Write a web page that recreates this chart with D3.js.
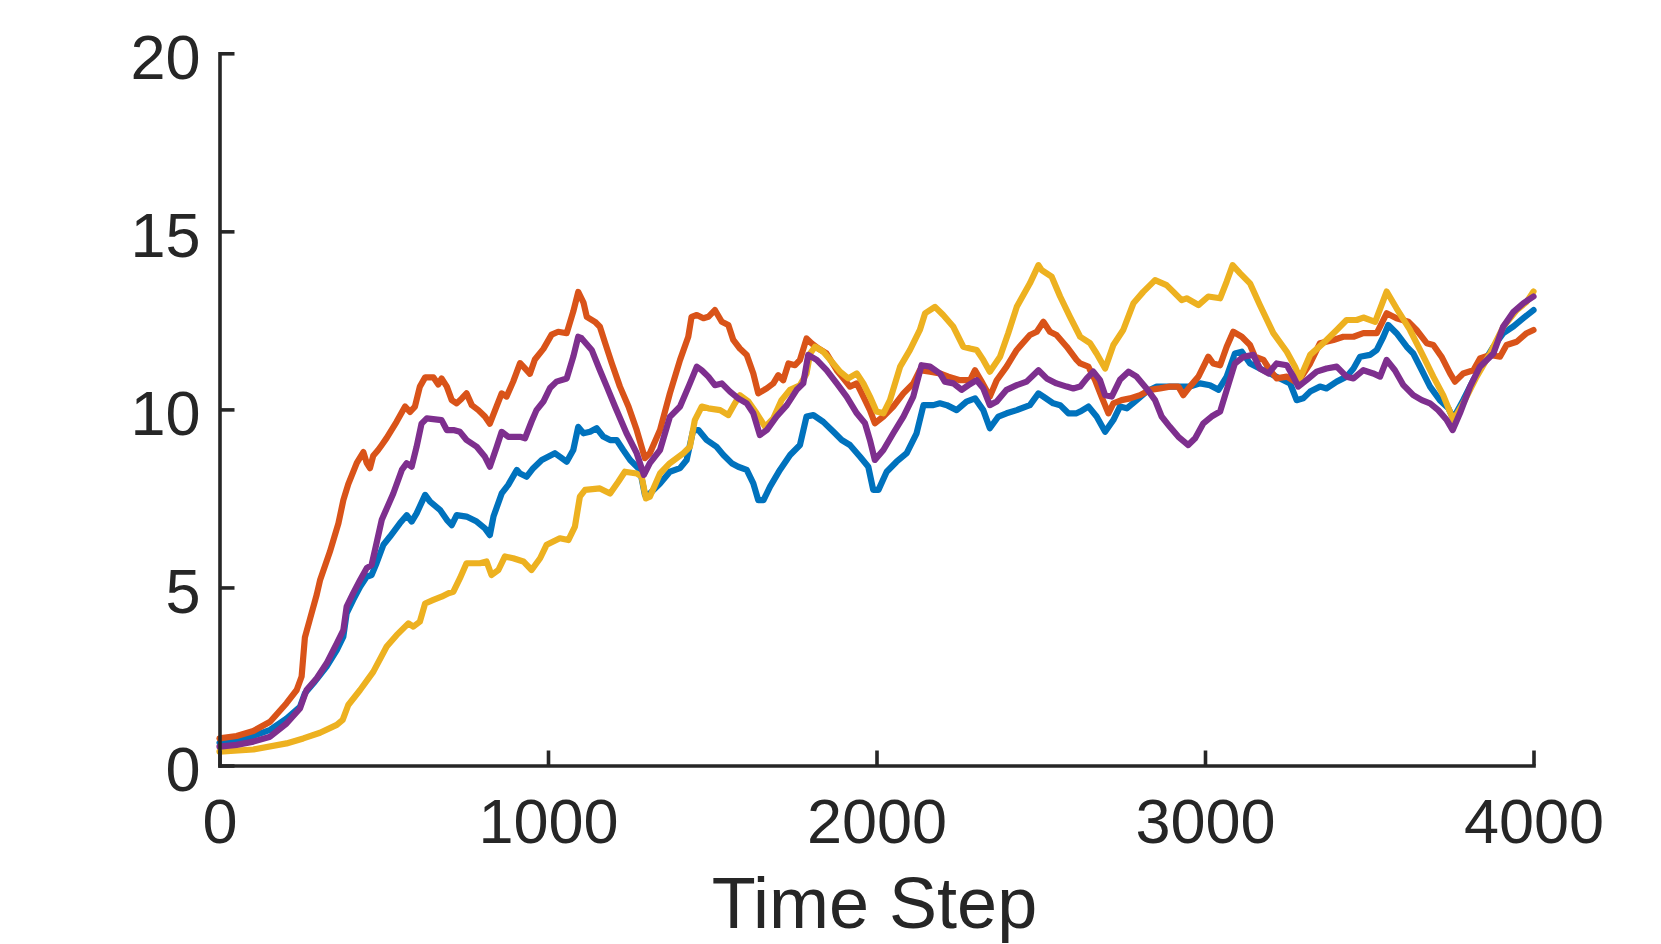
<!DOCTYPE html>
<html>
<head>
<meta charset="utf-8">
<script src="https://cdn.jsdelivr.net/npm/d3@7"></script>
<style>
html,body{margin:0;padding:0;background:#fff;}
svg{display:block;}
</style>
</head>
<body>
<svg id="chart" width="1661" height="944"></svg>
<script>
// ---- data ----
const xTicks = [0, 1000, 2000, 3000, 4000];
const yTicks = [0, 5, 10, 15, 20];
const xLabel = "Time Step";

const seriesBlue = [[0,0.64],[52,0.72],[103,0.83],[154,1.0],[204,1.32],[245,1.65],[260,2.03],[286,2.31],[326,2.78],[357,3.24],[377,3.62],[387,4.27],[407,4.65],[428,5.02],[448,5.3],[463,5.35],[478,5.68],[499,6.2],[519,6.43],[549,6.8],[570,7.03],[585,6.85],[600,7.08],[626,7.6],[641,7.41],[671,7.18],[692,6.9],[707,6.75],[722,7.03],[752,6.99],[783,6.85],[808,6.66],[823,6.47],[834,6.99],[859,7.64],[879,7.88],[905,8.3],[915,8.2],[935,8.11],[955,8.35],[981,8.58],[1021,8.77],[1036,8.67],[1057,8.53],[1077,8.86],[1092,9.51],[1108,9.33],[1128,9.37],[1148,9.47],[1168,9.24],[1189,9.14],[1209,9.14],[1229,8.86],[1250,8.58],[1280,8.3],[1295,7.6],
[1310,7.64],[1341,7.92],[1371,8.25],[1402,8.35],[1422,8.58],[1442,9.42],[1458,9.42],[1483,9.14],[1513,8.95],[1534,8.72],[1559,8.49],[1579,8.39],[1605,8.3],[1625,7.92],[1640,7.45],[1656,7.45],[1676,7.83],[1706,8.3],[1737,8.72],[1767,9.0],[1787,9.8],[1808,9.84],[1838,9.65],[1869,9.37],[1894,9.14],[1919,9.0],[1950,8.67],[1975,8.39],[1990,7.74],[2006,7.74],[2031,8.25],[2061,8.53],[2092,8.77],[2122,9.33],[2143,10.12],[2173,10.12],[2193,10.17],[2214,10.12],[2244,9.98],[2274,10.22],[2300,10.31],[2325,9.98],[2345,9.47],[2371,9.8],[2396,9.89],[2427,9.98],[2467,10.12],[2493,10.45],[2508,10.36],[2538,10.17],[2559,10.12],[2584,9.89],[2609,9.89],
[2620,9.94],[2645,10.08],[2670,9.8],[2696,9.37],[2721,9.7],[2741,10.08],[2762,10.03],[2792,10.26],[2822,10.5],[2853,10.64],[2893,10.64],[2924,10.64],[2954,10.64],[2985,10.73],[3015,10.68],[3041,10.55],[3066,10.92],[3091,11.57],[3112,11.62],[3137,11.29],[3167,11.15],[3198,11.01],[3228,10.87],[3259,10.73],[3279,10.26],[3299,10.31],[3320,10.5],[3350,10.64],[3370,10.59],[3401,10.78],[3431,10.92],[3452,11.15],[3472,11.48],[3502,11.53],[3523,11.67],[3543,12.04],[3558,12.37],[3583,12.14],[3614,11.76],[3634,11.57],[3660,11.1],[3685,10.64],[3715,10.26],[3741,10.03],[3756,9.75],[3786,10.26],[3817,10.83],[3847,11.29],[3878,11.76],[3908,12.14],[3939,12.33],[3969,12.56],[4000,12.79]];

const seriesOrange = [[0,0.76],[52,0.83],[103,0.97],[154,1.23],[204,1.75],[235,2.12],[250,2.5],[260,3.6],[275,4.1],[296,4.8],[306,5.2],[336,6.0],[362,6.8],[377,7.45],[392,7.9],[418,8.5],[438,8.8],[448,8.5],[458,8.35],[468,8.7],[483,8.86],[494,9.0],[509,9.2],[539,9.65],[565,10.08],[580,9.93],[595,10.08],[610,10.64],[626,10.9],[651,10.9],[666,10.7],[676,10.87],[692,10.64],[707,10.26],[722,10.17],[737,10.3],[752,10.45],[768,10.12],[788,9.98],[808,9.8],[823,9.6],[839,9.98],[859,10.45],[874,10.36],[894,10.78],[915,11.3],[930,11.15],[945,11.0],[960,11.4],[986,11.7],[1011,12.1],[1031,12.18],[1057,12.14],[1077,12.75],[1092,13.3],[1108,13.0],[1118,12.6],[1143,12.46],[1158,12.32],[1174,11.86],[1194,11.3],[1219,10.64],[1245,10.08],[1270,9.42],[1295,8.63],
[1310,8.77],[1341,9.42],[1371,10.45],[1402,11.39],[1427,12.04],[1437,12.6],[1453,12.65],[1473,12.56],[1488,12.6],[1508,12.79],[1529,12.46],[1549,12.37],[1564,11.95],[1584,11.71],[1605,11.53],[1625,11.01],[1640,10.45],[1666,10.59],[1686,10.73],[1701,10.96],[1716,10.82],[1732,11.29],[1752,11.24],[1767,11.39],[1787,11.99],[1803,11.85],[1823,11.71],[1848,11.57],[1879,11.1],[1899,10.87],[1919,10.64],[1940,10.73],[1960,10.36],[1980,9.98],[1995,9.61],[2021,9.8],[2051,10.08],[2082,10.45],[2112,10.73],[2132,11.1],[2163,11.06],[2193,11.01],[2219,10.92],[2254,10.82],[2285,10.82],[2300,11.1],[2320,10.78],[2345,10.36],[2366,10.82],[2396,11.2],[2427,11.67],[2467,12.09],[2488,12.18],[2508,12.46],[2528,12.18],[2548,12.09],[2579,11.76],[2609,11.39],
[2620,11.29],[2645,11.2],[2665,10.83],[2685,10.36],[2706,9.89],[2721,10.17],[2746,10.26],[2772,10.31],[2802,10.4],[2833,10.55],[2863,10.59],[2893,10.64],[2919,10.64],[2934,10.4],[2954,10.64],[2980,10.92],[3000,11.29],[3010,11.48],[3025,11.29],[3046,11.24],[3066,11.76],[3086,12.18],[3112,12.04],[3137,11.81],[3152,11.48],[3178,11.39],[3198,11.1],[3218,10.87],[3249,10.92],[3274,10.78],[3294,10.92],[3320,11.29],[3350,11.86],[3391,11.95],[3421,12.04],[3452,12.04],[3482,12.14],[3523,12.14],[3553,12.7],[3583,12.56],[3619,12.46],[3644,12.23],[3675,11.86],[3695,11.81],[3720,11.48],[3746,11.01],[3761,10.78],[3786,11.01],[3817,11.1],[3837,11.43],[3868,11.53],[3898,11.48],[3918,11.81],[3949,11.9],[3979,12.14],[4000,12.23]];

const seriesYellow = [[0,0.39],[103,0.45],[204,0.62],[255,0.76],[306,0.92],[357,1.14],[375,1.28],[392,1.7],[428,2.12],[468,2.63],[509,3.34],[539,3.66],[575,3.99],[590,3.9],[610,4.04],[626,4.55],[651,4.65],[676,4.74],[697,4.84],[712,4.88],[732,5.26],[752,5.68],[793,5.68],[813,5.73],[828,5.35],[849,5.49],[869,5.87],[894,5.82],[925,5.73],[950,5.49],[976,5.82],[996,6.2],[1036,6.38],[1062,6.33],[1082,6.71],[1097,7.55],[1113,7.74],[1158,7.78],[1189,7.64],[1214,7.97],[1234,8.25],[1270,8.2],[1285,8.11],[1298,7.5],
[1310,7.55],[1341,8.2],[1371,8.49],[1412,8.77],[1432,8.95],[1447,9.7],[1468,10.08],[1488,10.03],[1524,9.98],[1549,9.84],[1569,10.17],[1584,10.4],[1610,10.22],[1635,9.89],[1661,9.51],[1686,9.75],[1711,10.26],[1737,10.55],[1767,10.68],[1787,11.01],[1798,11.57],[1813,11.76],[1838,11.62],[1864,11.34],[1889,11.06],[1914,10.87],[1940,11.01],[1960,10.73],[1980,10.36],[2000,9.94],[2021,9.89],[2041,10.26],[2072,11.2],[2102,11.67],[2132,12.23],[2148,12.7],[2178,12.88],[2203,12.65],[2234,12.32],[2264,11.76],[2285,11.71],[2305,11.67],[2325,11.39],[2345,11.06],[2376,11.48],[2401,12.14],[2427,12.88],[2467,13.54],[2493,14.05],[2503,13.91],[2533,13.73],[2559,13.17],[2589,12.6],
[2620,12.04],[2650,11.86],[2670,11.57],[2696,11.15],[2721,11.81],[2751,12.23],[2782,12.98],[2812,13.3],[2848,13.63],[2883,13.49],[2904,13.3],[2929,13.07],[2944,13.12],[2980,12.93],[3010,13.17],[3046,13.12],[3066,13.59],[3084,14.05],[3107,13.82],[3137,13.54],[3167,12.93],[3208,12.14],[3249,11.62],[3274,11.2],[3289,10.87],[3320,11.53],[3360,11.86],[3401,12.23],[3431,12.51],[3462,12.51],[3482,12.58],[3518,12.46],[3553,13.31],[3583,12.84],[3624,12.23],[3665,11.48],[3695,10.92],[3725,10.4],[3756,9.7],[3786,10.17],[3827,10.92],[3868,11.57],[3908,12.32],[3949,12.79],[3979,13.02],[4000,13.31]];

const seriesPurple = [[0,0.53],[52,0.58],[103,0.67],[154,0.81],[204,1.18],[245,1.6],[265,2.12],[296,2.45],[326,2.87],[357,3.43],[377,3.8],[387,4.46],[407,4.84],[428,5.21],[448,5.54],[463,5.63],[478,6.24],[494,6.9],[509,7.22],[529,7.64],[555,8.3],[570,8.49],[585,8.39],[600,8.95],[615,9.6],[631,9.75],[676,9.7],[692,9.42],[712,9.42],[732,9.37],[752,9.14],[783,8.95],[808,8.67],[823,8.39],[844,8.95],[859,9.37],[879,9.23],[915,9.23],[930,9.19],[950,9.66],[965,9.98],[986,10.22],[1006,10.6],[1026,10.78],[1057,10.87],[1077,11.48],[1092,12.04],[1102,12.0],[1133,11.67],[1158,11.1],[1179,10.64],[1204,10.08],[1239,9.33],[1270,8.77],[1292,8.16],
[1310,8.49],[1341,8.86],[1371,9.79],[1402,10.08],[1432,10.73],[1453,11.2],[1468,11.1],[1488,10.92],[1508,10.68],[1529,10.73],[1554,10.5],[1579,10.31],[1605,10.17],[1625,9.89],[1645,9.28],[1666,9.42],[1696,9.8],[1727,10.12],[1757,10.55],[1777,10.73],[1792,11.53],[1818,11.39],[1848,11.1],[1879,10.73],[1909,10.36],[1940,9.89],[1965,9.61],[1980,9.14],[1995,8.58],[2021,8.86],[2051,9.33],[2082,9.8],[2112,10.36],[2137,11.24],[2163,11.2],[2193,11.01],[2208,10.78],[2234,10.73],[2259,10.55],[2280,10.68],[2305,10.82],[2325,10.59],[2345,10.12],[2366,10.22],[2396,10.55],[2427,10.68],[2457,10.78],[2493,11.1],[2518,10.87],[2548,10.73],[2579,10.64],[2599,10.59],
[2620,10.64],[2640,10.87],[2660,11.06],[2680,10.83],[2696,10.4],[2716,10.36],[2741,10.83],[2767,11.06],[2792,10.92],[2822,10.59],[2848,10.26],[2868,9.8],[2893,9.51],[2919,9.23],[2949,9.0],[2970,9.19],[2995,9.61],[3020,9.8],[3046,9.94],[3066,10.54],[3091,11.29],[3117,11.48],[3147,11.53],[3167,11.15],[3193,11.01],[3218,11.29],[3249,11.24],[3269,10.92],[3284,10.64],[3310,10.83],[3340,11.06],[3370,11.15],[3401,11.2],[3431,10.92],[3452,10.87],[3482,11.1],[3512,11.01],[3533,10.92],[3553,11.39],[3578,11.1],[3604,10.68],[3634,10.4],[3660,10.26],[3685,10.17],[3710,9.98],[3736,9.7],[3754,9.42],[3776,9.89],[3807,10.64],[3837,11.2],[3878,11.57],[3908,12.33],[3939,12.74],[3969,12.98],[4000,13.17]];

const seriesList = [seriesBlue, seriesOrange, seriesYellow, seriesPurple];
const seriesColors = ["#0072BD", "#D95319", "#EDB120", "#7E2F8E"];

// ---- chart ----
const svg = d3.select("#chart");
svg.append("rect").attr("width", 1661).attr("height", 944).attr("fill", "#fff");

const plotLeft = 219.5, plotRight = 1533.5, plotTop = 53.3, plotBottom = 765.5;
const x = d3.scaleLinear().domain([0, 4000]).range([plotLeft, plotRight]);
const y = d3.scaleLinear().domain([0, 20]).range([plotBottom, plotTop]);

const textColor = "#262626";
const fontFam = "'Liberation Sans', Arial, Helvetica, sans-serif";

const line = d3.line().x(d => x(d[0])).y(d => y(d[1]));

const g = svg.append("g");
seriesList.forEach((s, i) => {
  g.append("path")
    .datum(s)
    .attr("d", line)
    .attr("fill", "none")
    .attr("stroke", seriesColors[i])
    .attr("stroke-width", 6.2)
    .attr("stroke-linejoin", "round")
    .attr("stroke-linecap", "round");
});

const xAxis = d3.axisBottom(x).tickValues(xTicks).tickFormat(d3.format("d"))
  .tickSizeInner(-15).tickSizeOuter(0).tickPadding(33);
const yAxis = d3.axisLeft(y).tickValues(yTicks).tickFormat(d3.format("d"))
  .tickSizeInner(-15).tickSizeOuter(0).tickPadding(19);

const gx = svg.append("g").attr("transform", `translate(0,${plotBottom})`).call(xAxis);
const gy = svg.append("g").attr("transform", `translate(${plotLeft},0)`).call(yAxis);

[gx, gy].forEach(ax => {
  ax.select(".domain").attr("stroke", textColor).attr("stroke-width", 3.6).attr("stroke-linecap", "square");
  ax.selectAll(".tick line").attr("stroke", textColor).attr("stroke-width", 3.6);
  ax.selectAll(".tick text").attr("fill", textColor).style("font-family", fontFam).style("font-size", "63px");
});
gy.selectAll(".tick text").attr("dy", "0.4em");

svg.append("text")
  .attr("x", (plotLeft + plotRight) / 2 - 2)
  .attr("y", 928)
  .attr("text-anchor", "middle")
  .attr("fill", textColor)
  .style("font-family", fontFam)
  .style("font-size", "72px")
  .text(xLabel);
</script>
</body>
</html>
